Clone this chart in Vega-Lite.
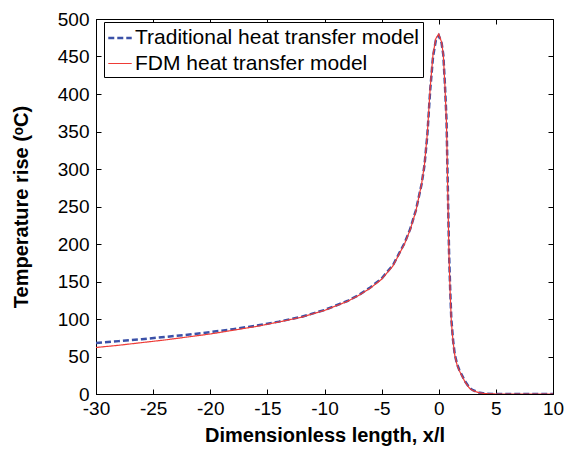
{
  "$schema": "https://vega.github.io/schema/vega-lite/v6.json",
  "width": 457,
  "height": 375,
  "autosize": {"type": "none"},
  "padding": {"left": 96, "top": 19, "right": 19, "bottom": 55},
  "background": "white",
  "config": {
    "view": {"stroke": "black", "strokeWidth": 1},
    "font": "Liberation Sans",
    "axis": {
      "grid": false,
      "domainColor": "black",
      "tickColor": "black",
      "tickSize": -5,
      "labelFont": "Liberation Sans",
      "labelFontSize": 19,
      "labelColor": "black",
      "titleFont": "Liberation Sans",
      "titleFontSize": 20,
      "titleFontWeight": "bold",
      "titleColor": "black"
    }
  },
  "data": {
    "values": [
      {"x": -30, "T": 68, "model": "Traditional heat transfer model"},
      {"x": -28, "T": 70.5, "model": "Traditional heat transfer model"},
      {"x": -26, "T": 73, "model": "Traditional heat transfer model"},
      {"x": -24, "T": 76, "model": "Traditional heat transfer model"},
      {"x": -22, "T": 79, "model": "Traditional heat transfer model"},
      {"x": -20, "T": 82.5, "model": "Traditional heat transfer model"},
      {"x": -18, "T": 86.5, "model": "Traditional heat transfer model"},
      {"x": -16, "T": 91, "model": "Traditional heat transfer model"},
      {"x": -14, "T": 96.5, "model": "Traditional heat transfer model"},
      {"x": -12, "T": 103, "model": "Traditional heat transfer model"},
      {"x": -10, "T": 112, "model": "Traditional heat transfer model"},
      {"x": -9, "T": 118, "model": "Traditional heat transfer model"},
      {"x": -8, "T": 124, "model": "Traditional heat transfer model"},
      {"x": -7, "T": 132, "model": "Traditional heat transfer model"},
      {"x": -6, "T": 142, "model": "Traditional heat transfer model"},
      {"x": -5, "T": 154, "model": "Traditional heat transfer model"},
      {"x": -4, "T": 172, "model": "Traditional heat transfer model"},
      {"x": -3, "T": 201, "model": "Traditional heat transfer model"},
      {"x": -2.5, "T": 220, "model": "Traditional heat transfer model"},
      {"x": -2, "T": 245, "model": "Traditional heat transfer model"},
      {"x": -1.5, "T": 280, "model": "Traditional heat transfer model"},
      {"x": -1.25, "T": 305, "model": "Traditional heat transfer model"},
      {"x": -1, "T": 345, "model": "Traditional heat transfer model"},
      {"x": -0.75, "T": 405, "model": "Traditional heat transfer model"},
      {"x": -0.5, "T": 450, "model": "Traditional heat transfer model"},
      {"x": -0.25, "T": 472, "model": "Traditional heat transfer model"},
      {"x": 0, "T": 478, "model": "Traditional heat transfer model"},
      {"x": 0.25, "T": 468, "model": "Traditional heat transfer model"},
      {"x": 0.4, "T": 452, "model": "Traditional heat transfer model"},
      {"x": 0.55, "T": 410, "model": "Traditional heat transfer model"},
      {"x": 0.68, "T": 365, "model": "Traditional heat transfer model"},
      {"x": 0.8, "T": 270, "model": "Traditional heat transfer model"},
      {"x": 0.9, "T": 190, "model": "Traditional heat transfer model"},
      {"x": 1.0, "T": 140, "model": "Traditional heat transfer model"},
      {"x": 1.1, "T": 100, "model": "Traditional heat transfer model"},
      {"x": 1.25, "T": 72, "model": "Traditional heat transfer model"},
      {"x": 1.4, "T": 53, "model": "Traditional heat transfer model"},
      {"x": 1.6, "T": 40, "model": "Traditional heat transfer model"},
      {"x": 1.8, "T": 32, "model": "Traditional heat transfer model"},
      {"x": 2.0, "T": 26, "model": "Traditional heat transfer model"},
      {"x": 2.3, "T": 17, "model": "Traditional heat transfer model"},
      {"x": 2.7, "T": 8, "model": "Traditional heat transfer model"},
      {"x": 3.0, "T": 5, "model": "Traditional heat transfer model"},
      {"x": 3.5, "T": 2, "model": "Traditional heat transfer model"},
      {"x": 4.0, "T": 0.5, "model": "Traditional heat transfer model"},
      {"x": 5, "T": 0, "model": "Traditional heat transfer model"},
      {"x": 10, "T": 0, "model": "Traditional heat transfer model"},
      {"x": -30, "T": 62, "model": "FDM heat transfer model"},
      {"x": -28, "T": 65, "model": "FDM heat transfer model"},
      {"x": -26, "T": 68.5, "model": "FDM heat transfer model"},
      {"x": -24, "T": 72, "model": "FDM heat transfer model"},
      {"x": -22, "T": 76, "model": "FDM heat transfer model"},
      {"x": -20, "T": 80, "model": "FDM heat transfer model"},
      {"x": -18, "T": 85, "model": "FDM heat transfer model"},
      {"x": -16, "T": 90, "model": "FDM heat transfer model"},
      {"x": -14, "T": 96, "model": "FDM heat transfer model"},
      {"x": -12, "T": 102.5, "model": "FDM heat transfer model"},
      {"x": -10, "T": 111.5, "model": "FDM heat transfer model"},
      {"x": -9, "T": 117.5, "model": "FDM heat transfer model"},
      {"x": -8, "T": 123.5, "model": "FDM heat transfer model"},
      {"x": -7, "T": 131.5, "model": "FDM heat transfer model"},
      {"x": -6, "T": 141, "model": "FDM heat transfer model"},
      {"x": -5, "T": 153, "model": "FDM heat transfer model"},
      {"x": -4, "T": 171, "model": "FDM heat transfer model"},
      {"x": -3, "T": 200, "model": "FDM heat transfer model"},
      {"x": -2.5, "T": 219, "model": "FDM heat transfer model"},
      {"x": -2, "T": 244, "model": "FDM heat transfer model"},
      {"x": -1.5, "T": 280, "model": "FDM heat transfer model"},
      {"x": -1.25, "T": 306, "model": "FDM heat transfer model"},
      {"x": -1, "T": 347, "model": "FDM heat transfer model"},
      {"x": -0.75, "T": 408, "model": "FDM heat transfer model"},
      {"x": -0.5, "T": 453, "model": "FDM heat transfer model"},
      {"x": -0.25, "T": 474, "model": "FDM heat transfer model"},
      {"x": 0, "T": 480, "model": "FDM heat transfer model"},
      {"x": 0.25, "T": 469, "model": "FDM heat transfer model"},
      {"x": 0.4, "T": 452, "model": "FDM heat transfer model"},
      {"x": 0.55, "T": 408, "model": "FDM heat transfer model"},
      {"x": 0.68, "T": 360, "model": "FDM heat transfer model"},
      {"x": 0.8, "T": 262, "model": "FDM heat transfer model"},
      {"x": 0.9, "T": 183, "model": "FDM heat transfer model"},
      {"x": 1.0, "T": 135, "model": "FDM heat transfer model"},
      {"x": 1.1, "T": 97, "model": "FDM heat transfer model"},
      {"x": 1.25, "T": 70, "model": "FDM heat transfer model"},
      {"x": 1.4, "T": 52, "model": "FDM heat transfer model"},
      {"x": 1.6, "T": 39, "model": "FDM heat transfer model"},
      {"x": 1.8, "T": 31, "model": "FDM heat transfer model"},
      {"x": 2.0, "T": 25, "model": "FDM heat transfer model"},
      {"x": 2.3, "T": 16, "model": "FDM heat transfer model"},
      {"x": 2.7, "T": 7.5, "model": "FDM heat transfer model"},
      {"x": 3.0, "T": 4.5, "model": "FDM heat transfer model"},
      {"x": 3.5, "T": 1.8, "model": "FDM heat transfer model"},
      {"x": 4.0, "T": 0.5, "model": "FDM heat transfer model"},
      {"x": 5, "T": 0, "model": "FDM heat transfer model"},
      {"x": 10, "T": 0, "model": "FDM heat transfer model"}
    ]
  },
  "layer": [
    {
      "mark": {"type": "line", "clip": true},
      "encoding": {
        "x": {
          "field": "x", "type": "quantitative",
          "scale": {"domain": [-30, 10], "nice": false, "zero": false},
          "axis": {"values": [-30, -25, -20, -15, -10, -5, 0, 5, 10], "labelExpr": "'' + datum.value", "title": "Dimensionless length, x/l", "labelPadding": 10, "titlePadding": 7, "labelFlush": false}
        },
        "y": {
          "field": "T", "type": "quantitative",
          "scale": {"domain": [0, 500], "nice": false},
          "axis": {"values": [0, 50, 100, 150, 200, 250, 300, 350, 400, 450, 500], "title": "Temperature rise (ᵒC)", "labelPadding": 12, "titlePadding": 26}
        },
        "color": {
          "field": "model", "type": "nominal",
          "scale": {"domain": ["Traditional heat transfer model", "FDM heat transfer model"], "range": ["#3b51a8", "#ee3b36"]},
          "legend": {
            "title": null, "orient": "none", "legendX": 8, "legendY": 3,
            "strokeColor": "black", "fillColor": "white", "padding": 3,
            "labelFontSize": 21, "labelColor": "black", "labelFont": "Liberation Sans", "labelLimit": 0,
            "symbolType": "stroke", "symbolSize": 550, "rowPadding": 3, "labelOffset": 2
          }
        },
        "strokeDash": {
          "field": "model", "type": "nominal",
          "scale": {"domain": ["Traditional heat transfer model", "FDM heat transfer model"], "range": [[6, 3], [1, 0]]}
        },
        "strokeWidth": {
          "field": "model", "type": "nominal",
          "scale": {"domain": ["Traditional heat transfer model", "FDM heat transfer model"], "range": [2.5, 1.2]}
        },
        "order": {"field": "x", "type": "quantitative"}
      }
    },
    {
      "mark": {"type": "line", "opacity": 0},
      "encoding": {
        "x": {"field": "x", "type": "quantitative", "axis": {"orient": "top", "values": [-30, -25, -20, -15, -10, -5, 0, 5, 10], "labels": false, "title": null, "domain": false}},
        "y": {"field": "T", "type": "quantitative", "axis": {"orient": "right", "values": [0, 50, 100, 150, 200, 250, 300, 350, 400, 450, 500], "labels": false, "title": null, "domain": false}},
        "detail": {"field": "model"}
      }
    }
  ],
  "resolve": {"axis": {"x": "independent", "y": "independent"}}
}
